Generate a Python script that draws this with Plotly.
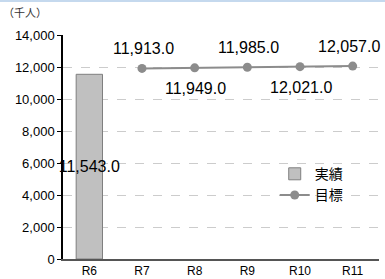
import plotly.graph_objects as go

categories = ["R6", "R7", "R8", "R9", "R10", "R11"]
actual_cats = ["R6"]
actual_vals = [11543.0]
target_cats = ["R7", "R8", "R9", "R10", "R11"]
target_vals = [11913.0, 11949.0, 11985.0, 12021.0, 12057.0]
y_ticks = [0, 2000, 4000, 6000, 8000, 10000, 12000, 14000]
y_tick_text = ["0", "2,000", "4,000", "6,000", "8,000", "10,000", "12,000", "14,000"]

num_font = "Liberation Sans, Arial, Noto Sans CJK JP"
jp_font = "Noto Sans CJK JP, Liberation Sans"

fig = go.Figure()
fig.add_trace(go.Bar(
    x=actual_cats, y=actual_vals, name="実績",
    marker=dict(color="#c0c0c0", line=dict(color="#7f7f7f", width=1)),
    width=0.5,
    text=[f"{v:,.1f}" for v in actual_vals],
    textposition="inside", insidetextanchor="middle", textangle=0,
    constraintext="none", cliponaxis=False,
    textfont=dict(size=16, color="black", family=num_font),
))
fig.add_trace(go.Scatter(
    x=target_cats, y=target_vals, name="目標", mode="lines+markers",
    line=dict(color="#8c8c8c", width=2),
    marker=dict(color="#8c8c8c", size=9),
))
n = len(target_vals)
for i, (c, v) in enumerate(zip(target_cats, target_vals)):
    fig.add_annotation(x=c, y=v, text=f"{v:,.1f}", showarrow=False,
                       yshift=20 if i % 2 == 0 else -21,
                       xshift=-4 if i == n - 1 else 1,
                       font=dict(size=16, color="black", family=num_font))

fig.add_annotation(xref="paper", yref="paper", x=-0.195, y=1.06, xanchor="left",
                   yanchor="bottom", text="（千人）", showarrow=False,
                   font=dict(size=11, color="#333333", family=jp_font))
# thin light-blue band along the top edge
fig.add_annotation(xref="paper", yref="paper", x=0.4, y=1.16, xanchor="center",
                   yanchor="top", text=" ", showarrow=False, width=400, height=3,
                   bgcolor="#c5d9ee", borderpad=0, borderwidth=0,
                   font=dict(size=2))

fig.update_layout(
    width=385, height=279,
    margin=dict(l=63, r=6, t=35, b=20, autoexpand=False),
    paper_bgcolor="white", plot_bgcolor="white",
    showlegend=True,
    legend=dict(x=0.67, y=0.45, xanchor="left", yanchor="top",
                bgcolor="rgba(0,0,0,0)", tracegroupgap=0,
                font=dict(size=14, color="black", family=jp_font)),
    font=dict(family=num_font, color="black"),
)
fig.update_xaxes(categoryorder="array", categoryarray=categories,
                 range=[-0.5, 5.5], showline=True, linecolor="#555555",
                 linewidth=1.5, ticks="", tickfont=dict(size=12, color="black"),
                 showgrid=False)
fig.update_yaxes(range=[0, 14000], tickvals=y_ticks, ticktext=y_tick_text,
                 showline=True, linecolor="black", linewidth=1.5,
                 ticks="outside", ticklen=4, tickcolor="black",
                 tickfont=dict(size=13, color="black"),
                 showgrid=True, gridcolor="#cccccc", griddash="dash", gridwidth=1,
                 zeroline=False)
fig.write_html("out.html", config={"displayModeBar": False},
               post_script="document.body.style.margin='0';document.body.style.overflow='hidden';")
